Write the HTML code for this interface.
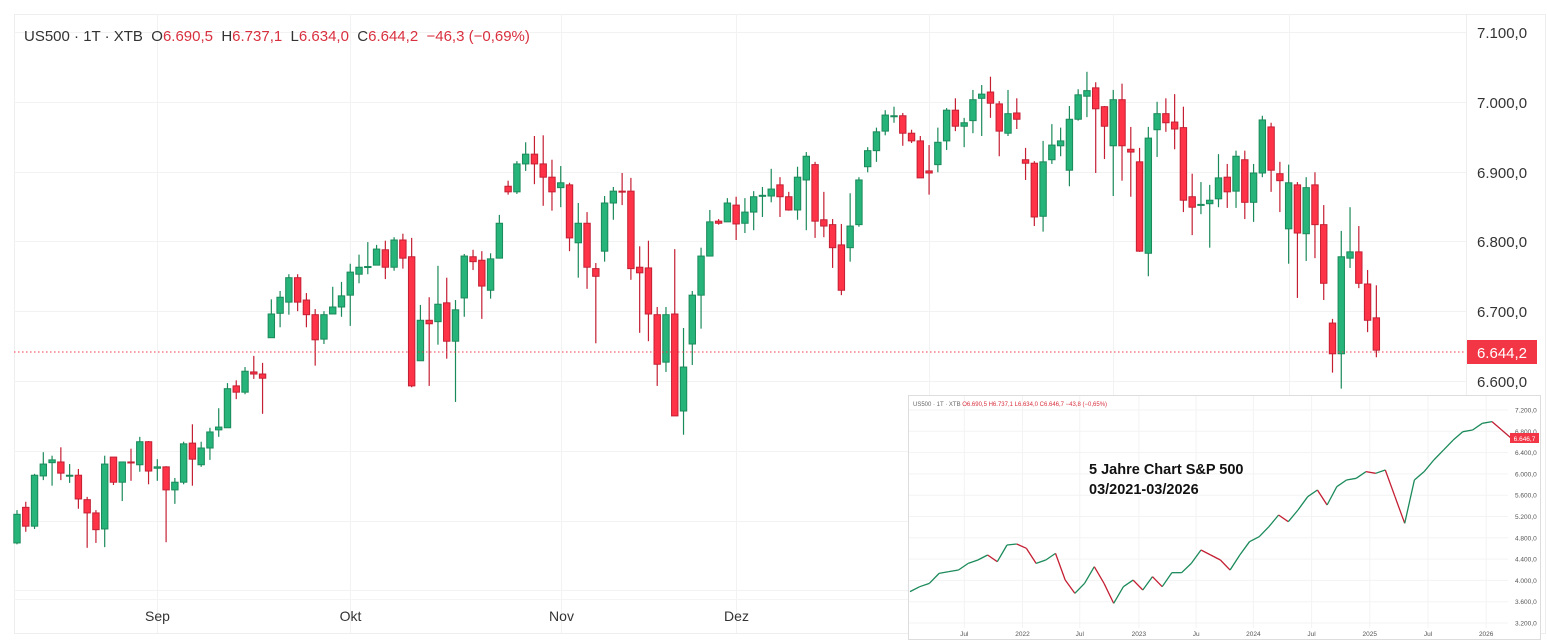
<!DOCTYPE html>
<html><head><meta charset="utf-8"><style>
html,body{margin:0;padding:0;background:#fff;}
svg{display:block;font-family:"Liberation Sans",sans-serif;}
</style></head><body>
<svg id="chart" width="1548" height="643" viewBox="0 0 1548 643" xmlns="http://www.w3.org/2000/svg">
<rect x="0" y="0" width="1548" height="643" fill="#fff"/>
<rect x="14.5" y="14.5" width="1531" height="619" fill="none" stroke="#eeeeee"/>
<g id="grid"></g>
<g id="candles"></g>
<line x1="14" y1="352" x2="1466" y2="352" stroke="#f23645" stroke-width="1" stroke-dasharray="1.5,2.5"/>
<g id="yaxis"></g>
<g id="xaxis"></g>
<text x="24" y="41" font-size="15" fill="#333"><tspan>US500 · 1T · XTB&#160;&#160;O</tspan><tspan fill="#d9303f">6.690,5</tspan><tspan>&#160;&#160;H</tspan><tspan fill="#d9303f">6.737,1</tspan><tspan>&#160;&#160;L</tspan><tspan fill="#d9303f">6.634,0</tspan><tspan>&#160;&#160;C</tspan><tspan fill="#d9303f">6.644,2&#160;&#160;−46,3 (−0,69%)</tspan></text>
<g>
<rect x="1467" y="340" width="70" height="24" fill="#f23645"/>
<text x="1502" y="358" font-size="15" fill="#fff" text-anchor="middle">6.644,2</text>
</g>
<g id="inset">
<rect x="908.5" y="395.5" width="632" height="244" fill="#fff" stroke="#dddddd"/>
<g id="insetGrid"></g>
<g id="insetMarks"></g>
<text x="913" y="406" font-size="6" fill="#666">US500 · 1T · XTB <tspan fill="#d9303f">O6.690,5 H6.737,1 L6.634,0 C6.646,7 −43,8 (−0,65%)</tspan></text>
<text x="1089" y="474" font-size="14.5" font-weight="bold" fill="#111">5 Jahre Chart S&amp;P 500</text>
<text x="1089" y="494" font-size="14.5" font-weight="bold" fill="#111">03/2021-03/2026</text>
<rect x="1510" y="433" width="29" height="10" fill="#f23645"/>
<text x="1524.5" y="441" font-size="6.5" fill="#fff" text-anchor="middle">6.646,7</text>
</g>
</svg>
<script>
const opens=[6368,6419,6392,6464,6483,6484,6464,6465,6430,6411,6388,6491,6455,6484,6480,6513,6475,6477,6444,6455,6511,6480,6504,6530,6533,6593,6584,6613,6610,6662,6697,6713,6748,6716,6695,6660,6696,6706,6723,6753,6763,6766,6788,6763,6802,6778,6629,6687,6685,6712,6657,6719,6778,6773,6730,6776,6879,6871,6911,6925,6911,6892,6877,6881,6798,6826,6761,6786,6855,6872,6872,6763,6762,6695,6627,6696,6557,6653,6723,6779,6829,6828,6852,6826,6842,6865,6865,6881,6864,6845,6888,6910,6831,6824,6795,6791,6824,6907,6930,6958,6979,6980,6955,6944,6901,6910,6944,6988,6965,6973,7005,7014,6997,6955,6984,6917,6912,6836,6917,6937,6902,6975,7008,7020,6993,6937,7003,6932,6914,6783,6960,6983,6971,6963,6864,6852,6854,6861,6892,6872,6917,6856,6898,6964,6897,6818,6881,6811,6881,6824,6683,6639,6776,6785,6739,6690.5];
const highs=[6415,6427,6467,6498,6493,6505,6481,6474,6434,6415,6493,6491,6484,6503,6520,6514,6488,6478,6461,6513,6538,6513,6533,6561,6597,6601,6620,6636,6626,6717,6729,6753,6753,6726,6703,6700,6735,6742,6768,6781,6799,6795,6801,6806,6811,6805,6709,6720,6765,6748,6716,6782,6788,6786,6783,6838,6887,6915,6942,6951,6952,6917,6908,6884,6855,6842,6769,6865,6878,6898,6891,6793,6801,6706,6706,6789,6676,6729,6791,6845,6832,6862,6864,6862,6872,6878,6904,6892,6871,6907,6928,6914,6871,6832,6825,6869,6892,6935,6963,6988,6993,6984,6960,6951,6938,6963,6991,7005,6977,7017,7024,7036,7001,7017,7005,6934,6915,6944,6968,6963,6994,7018,7043,7028,6994,7017,7026,6964,6934,6964,7000,7005,7011,6993,6897,6885,6881,6925,6911,6930,6930,6911,6980,6970,6914,6910,6885,6892,6899,6852,6689,6815,6849,6822,6759,6737.1];
const lows=[6366,6384,6388,6458,6450,6458,6454,6417,6361,6368,6362,6451,6428,6457,6470,6452,6457,6369,6424,6452,6450,6477,6487,6520,6533,6574,6581,6603,6553,6662,6677,6695,6700,6677,6622,6653,6696,6692,6679,6740,6753,6766,6746,6758,6761,6591,6629,6593,6652,6632,6570,6692,6759,6689,6718,6776,6867,6868,6901,6882,6851,6844,6849,6786,6748,6732,6654,6771,6831,6852,6745,6669,6657,6593,6613,6550,6523,6623,6675,6779,6824,6828,6802,6812,6816,6835,6856,6835,6844,6831,6816,6805,6806,6762,6723,6771,6821,6899,6914,6952,6970,6937,6941,6891,6867,6899,6931,6958,6935,6955,6951,6977,6922,6951,6961,6888,6822,6814,6911,6922,6879,6973,6978,6898,6918,6865,6887,6864,6785,6750,6921,6957,6932,6842,6809,6839,6791,6849,6848,6848,6832,6828,6892,6871,6842,6768,6719,6772,6776,6716,6612,6589,6762,6733,6670,6634];
const closes=[6409,6392,6465,6481,6487,6468,6465,6431,6411,6387,6481,6455,6484,6483,6513,6471,6477,6444,6455,6510,6488,6504,6527,6534,6589,6584,6614,6610,6604,6696,6720,6748,6713,6695,6659,6695,6706,6722,6756,6763,6764,6789,6763,6802,6776,6593,6687,6682,6710,6657,6702,6779,6771,6736,6775,6826,6871,6911,6925,6911,6892,6871,6884,6805,6826,6763,6750,6855,6872,6871,6761,6755,6696,6624,6695,6550,6620,6723,6779,6828,6826,6855,6825,6842,6864,6866,6875,6864,6845,6892,6922,6829,6822,6791,6730,6822,6888,6930,6957,6981,6980,6955,6944,6891,6898,6942,6988,6965,6970,7003,7011,6998,6958,6983,6975,6912,6835,6914,6938,6944,6975,7010,7016,6990,6965,7003,6937,6928,6786,6948,6983,6970,6961,6859,6849,6853,6859,6891,6871,6922,6856,6898,6974,6902,6887,6884,6812,6877,6824,6740,6639,6778,6785,6740,6687,6644.2];
const priceTicks=[7100,7000,6900,6800,6700,6600,6500,6400,6300];
const priceTickLabels=["7.100,0","7.000,0","6.900,0","6.800,0","6.700,0","6.600,0","6.500,0","6.400,0","6.300,0"];
const monthLabels=["Sep","Okt","Nov","Dez","2026","Feb","Mär"];
const monthIndex=[16,38,62,82,104,125,145];
const insetValues=[3789,3882,3945,4132,4164,4195,4320,4383,4477,4352,4665,4683,4602,4320,4383,4508,4007,3757,3945,4258,3945,3569,3882,4007,3820,4070,3882,4145,4145,4320,4571,4477,4383,4195,4477,4727,4821,5009,5228,5103,5322,5572,5698,5416,5760,5885,5917,6042,6011,6073,5572,5072,5885,6042,6261,6448,6636,6793,6824,6950,6981,6824,6668];
const insetTicks=[7200,6800,6400,6000,5600,5200,4800,4400,4000,3600,3200];
const insetTickLabels=["7.200,0","6.800,0","6.400,0","6.000,0","5.600,0","5.200,0","4.800,0","4.400,0","4.000,0","3.600,0","3.200,0"];
const insetXLabels=["Jul","2022","Jul","2023","Ju","2024","Jul","2025","Jul","2026"];
const insetXMonth=[5.6,11.6,17.5,23.6,29.5,35.4,41.4,47.4,53.4,59.4];

const NS="http://www.w3.org/2000/svg";
function yScale(p){return 32+(7100-p)*0.698;}
function xScale(i){return 17+i*8.77;}
function mk(tag,attrs,parent){const e=document.createElementNS(NS,tag);for(const k in attrs)e.setAttribute(k,attrs[k]);parent.appendChild(e);return e;}
const grid=document.getElementById('grid'),cg=document.getElementById('candles'),ya=document.getElementById('yaxis'),xa=document.getElementById('xaxis');
priceTicks.forEach((p,i)=>{
  const y=Math.round(yScale(p))+0.5;
  const l=mk('line',{x1:14,x2:1466,y1:y,y2:y,stroke:'#f2f2f2'},grid);
  
  
  const t=mk('text',{x:1477,y:y+5.5,'font-size':15,fill:'#333'},ya);
  t.textContent=priceTickLabels[i];
  
  
});
monthIndex.forEach((idx,i)=>{
  const x=Math.round(xScale(idx))+0.5;
  const l=mk('line',{x1:x,x2:x,y1:14,y2:633,stroke:'#f2f2f2'},grid);
  
  
  const t=mk('text',{x:x,y:621,'font-size':14,fill:'#333','text-anchor':'middle'},xa);
  t.textContent=monthLabels[i];
  
  
});
mk('line',{x1:1466.5,x2:1466.5,y1:14,y2:633,stroke:'#eeeeee'},grid);
mk('line',{x1:14,x2:1466,y1:599.5,y2:599.5,stroke:'#f4f4f4'},grid);
for(let i=0;i<opens.length;i++){
  const up=closes[i]>=opens[i];
  const x=xScale(i);
  const wc=up?'#1b8a5a':'#c41f33',fc=up?'#26b47a':'#ff3347';
  const w=mk('line',{x1:x,x2:x,y1:yScale(highs[i]),y2:yScale(lows[i]),stroke:wc,'stroke-width':1.2},cg);
  
  
  const yt=yScale(Math.max(opens[i],closes[i])),yb=yScale(Math.min(opens[i],closes[i]));
  const r=mk('rect',{x:x-3.2,y:yt,width:6.4,height:Math.max(1,yb-yt),fill:fc,stroke:wc,'stroke-width':1},cg);
  
  
}
// inset
const ig=document.getElementById('insetGrid'),im=document.getElementById('insetMarks');
function iy(v){return 410+(7200-v)/400*21.3;}
function ix(m){return 910+m*9.7;}
insetTicks.forEach((v,i)=>{
  const y=iy(v);
  const l=mk('line',{x1:909,x2:1508,y1:y,y2:y,stroke:'#f3f3f3'},ig);
  
  
  const t=mk('text',{x:1515,y:y+2.5,'font-size':6.5,fill:'#555'},ig);
  t.textContent=insetTickLabels[i];
  
  
});
insetXMonth.forEach((m,i)=>{
  const x=ix(m);
  mk('line',{x1:x,x2:x,y1:396,y2:628,stroke:'#f3f3f3'},ig);
  const t=mk('text',{x:x,y:636,'font-size':6.5,fill:'#555','text-anchor':'middle'},ig);
  t.textContent=insetXLabels[i];
  
  
});
for(let i=1;i<insetValues.length;i++){
  const up=insetValues[i]>=insetValues[i-1];
  const l=mk('line',{x1:ix(i-1),y1:iy(insetValues[i-1]),x2:ix(i),y2:iy(insetValues[i]),stroke:up?'#1b8a5a':'#c41f33','stroke-width':1.3},im);
  
  
}
</script>
</body></html>
